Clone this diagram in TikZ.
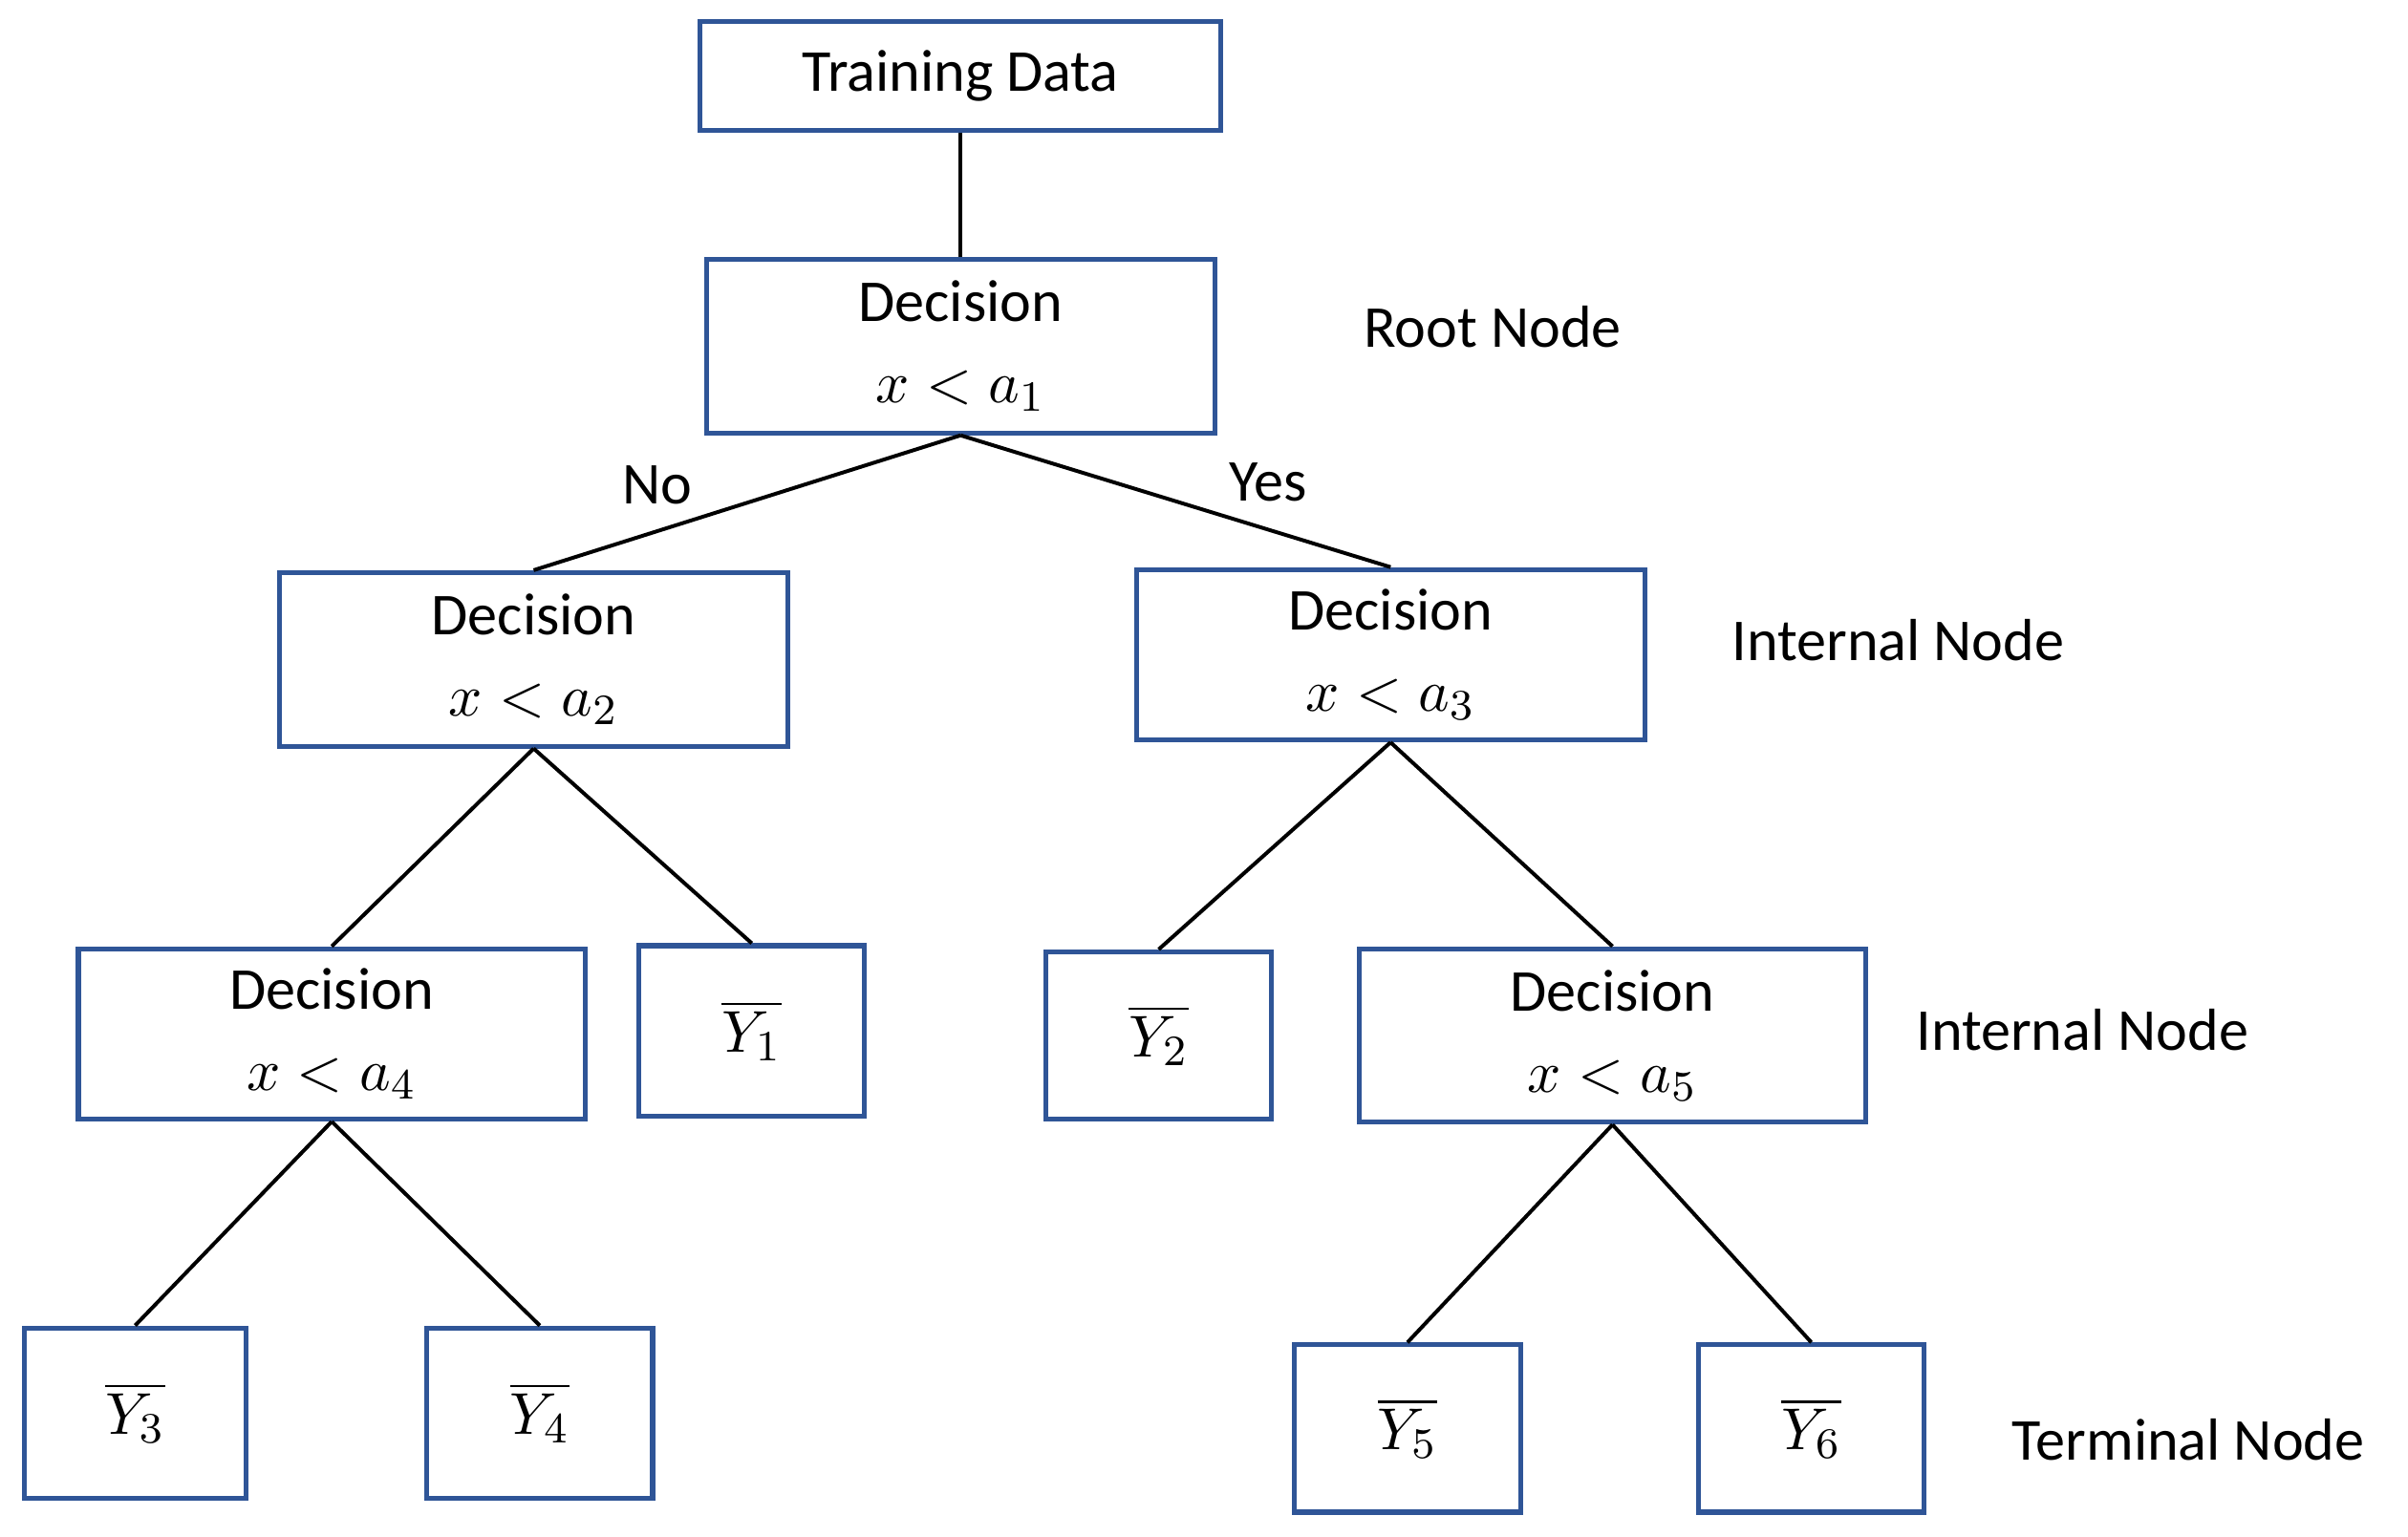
\documentclass[tikz,border=0pt]{standalone}
\usepackage{fontspec}
\setmainfont{Carlito}
\definecolor{bx}{HTML}{2F5597}
\begin{document}
\begin{tikzpicture}[x=0.01cm,y=-0.01cm,
 box/.style={draw=bx,line width=0.9pt,inner sep=0pt,align=center,font=\fontsize{11}{15}\selectfont},
 lbl/.style={font=\fontsize{11}{13}\selectfont},
 ed/.style={line width=0.7pt}]
\useasboundingbox (0,0) rectangle (1568,1001);
\newcommand{\bx}[6]{\node[box,minimum width=(#3-#2)*0.01cm,minimum height=(#5-#4)*0.01cm] (#1) at ({(#2+#3)/2},{(#4+#5)/2}) {#6};}
\bx{td}{456}{795}{14}{85}{Training Data}
\bx{r}{460}{791}{169}{282}{Decision\\$x<a_1$}
\bx{l2}{182}{513}{373}{486}{Decision\\$x<a_2$}
\bx{r2}{740}{1071}{371}{482}{Decision\\$x<a_3$}
\bx{l3}{51}{381}{618}{729}{Decision\\$x<a_4$}
\bx{y1}{416}{563}{616}{727}{$\overline{Y_1}$}
\bx{y2}{681}{828}{620}{729}{$\overline{Y_2}$}
\bx{r3}{885}{1215}{618}{731}{Decision\\$x<a_5$}
\bx{y3}{16}{160}{865}{976}{$\overline{Y_3}$}
\bx{y4}{278}{425}{865}{976}{$\overline{Y_4}$}
\bx{y5}{843}{990}{876}{985}{$\overline{Y_5}$}
\bx{y6}{1106}{1253}{876}{985}{$\overline{Y_6}$}
\draw[ed] (td.south) -- (r.north);
\draw[ed] (r.south) -- (l2.north);
\draw[ed] (r.south) -- (r2.north);
\draw[ed] (l2.south) -- (l3.north);
\draw[ed] (l2.south) -- (y1.north);
\draw[ed] (r2.south) -- (y2.north);
\draw[ed] (r2.south) -- (r3.north);
\draw[ed] (l3.south) -- (y3.north);
\draw[ed] (l3.south) -- (y4.north);
\draw[ed] (r3.south) -- (y5.north);
\draw[ed] (r3.south) -- (y6.north);
\node[lbl] (no) at (428,316) {No};
\node[lbl] (yes) at (826,314) {Yes};
\node[lbl] (l1) at (972,213) {Root Node};
\node[lbl] (l2l) at (1236,417) {Internal Node};
\node[lbl] (l3l) at (1356,671) {Internal Node};
\node[lbl] (l4l) at (1425,938) {Terminal Node};
\end{tikzpicture}
\end{document}
